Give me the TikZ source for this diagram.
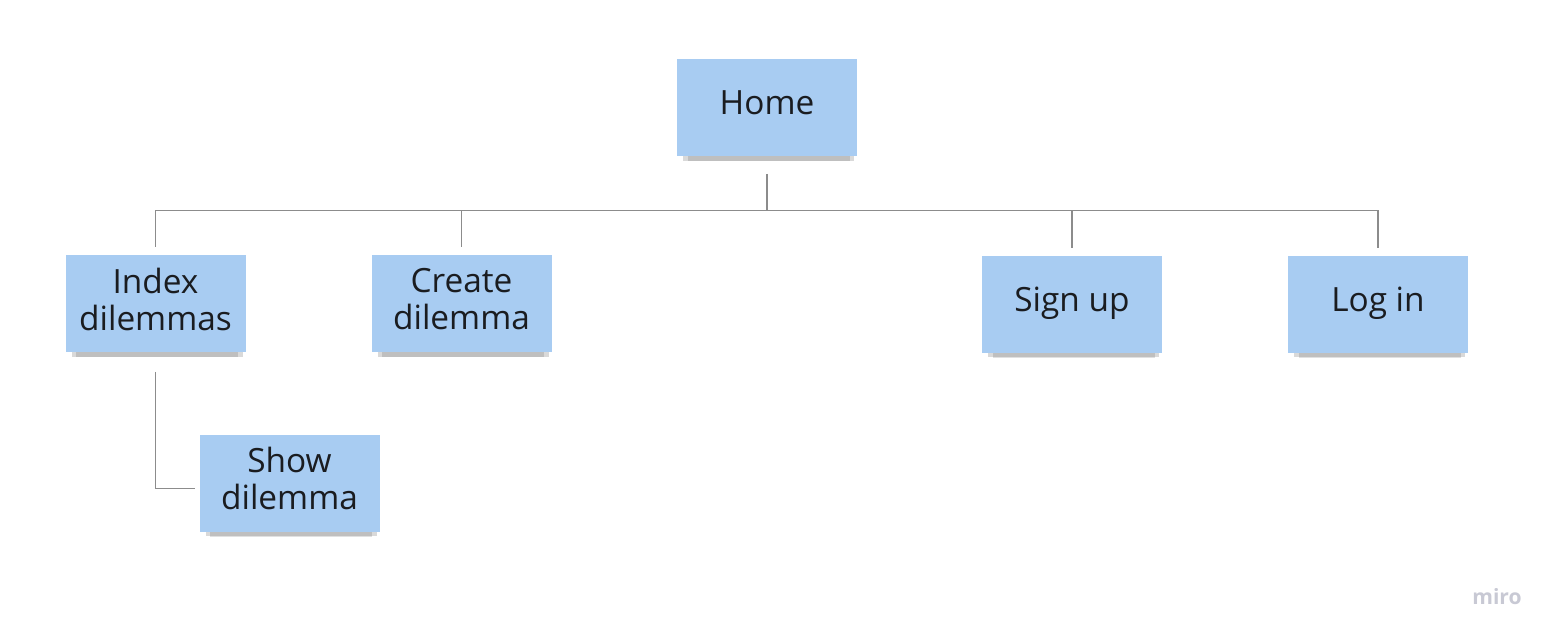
\documentclass[tikz,border=0pt]{standalone}
\usepackage{fontspec}
\setmainfont{Open Sans}
\usepackage{tikz}
\usetikzlibrary{shadows, positioning}
\usepackage{xcolor}
\definecolor{stickyblue}{RGB}{168,204,242}
\definecolor{inkdark}{RGB}{26,28,32}
\definecolor{wirecol}{RGB}{140,140,140}
\definecolor{brandgray}{RGB}{200,201,212}

\begin{document}
\begin{tikzpicture}[
		sticky/.style={fill=stickyblue, text=inkdark, minimum width=3.6cm, minimum height=1.94cm,
			align=center, inner sep=3pt, text depth=0.2cm, font=\fontsize{19}{21}\selectfont,
			drop shadow={shadow xshift=1pt, shadow yshift=-6pt, shadow scale=0.9, opacity=0.12, fill=black},
			drop shadow={shadow xshift=1pt, shadow yshift=-4pt, shadow scale=0.95, opacity=0.15, fill=black}},
		wire/.style={draw=wirecol, line width=0.7pt}
	]
		\useasboundingbox (0,0) rectangle (31.16,-12.82);
		\draw (15.34,-2.16) node[sticky] (home){Home}
		(3.11,-6.08) node[sticky] (index) {Index\\dilemmas}
		(9.23,-6.08) node[sticky] (create) {Create\\dilemma}
		(21.44,-6.09) node[sticky] (signup) {Sign up}
		(27.56,-6.09) node[sticky] (login) {Log in}
		(5.79,-9.67) node[sticky] (show) {Show\\dilemma};
		
		\draw[wire] ([yshift=-0.34cm]home.south) -- ++(0,-0.74) coordinate (bus);
		\draw[wire] (bus) -| ([yshift=0.16cm]index.north);
		\draw[wire] (bus) -| ([yshift=0.16cm]create.north);
		\draw[wire] (bus) -| ([yshift=0.16cm]signup.north);
		\draw[wire] (bus) -| ([yshift=0.16cm]login.north);
		\draw[wire] ([yshift=-0.38cm]index.south) |- ([xshift=-0.08cm,yshift=-0.1cm]show.west);
		
		\node[text=brandgray, font=\fontsize{12}{14}\selectfont\bfseries] (brand) at (29.94,-11.94) {miro};
	\end{tikzpicture}
\end{document}
